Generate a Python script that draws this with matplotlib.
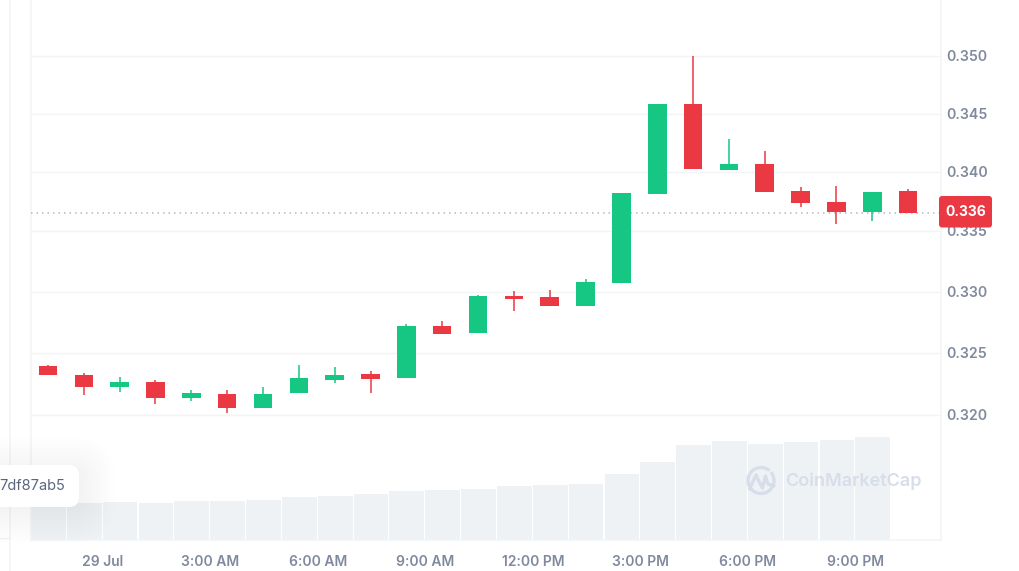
import numpy as np
import matplotlib
matplotlib.use("Agg")
import matplotlib.pyplot as plt
from matplotlib.patches import FancyBboxPatch
from matplotlib.ticker import NullFormatter, NullLocator, FixedLocator, FixedFormatter
from matplotlib.transforms import ScaledTranslation

plt.rcParams['font.family'] = ['Inter', 'DejaVu Sans']

# ---- data ----
opens  = [.32394,.32322,.32225,.32265,.32136,.32172,.32056,.32176,.32281,.32326,.32297,.32719,.32660,.32965,.32957,.32883,.33068,.33811,.34579,.34019,.34066,.33840,.33747,.33663,.33840]
closes = [.32317,.32225,.32265,.32132,.32176,.32056,.32172,.32297,.32322,.32292,.32719,.32656,.32965,.32944,.32883,.33081,.33823,.34579,.34023,.34066,.33832,.33735,.33663,.33832,.33655]
highs  = [.32402,.32334,.32305,.32281,.32200,.32200,.32225,.32402,.32386,.32354,.32732,.32760,.32977,.33006,.33014,.33102,.33823,.34579,.35000,.34279,.34180,.33875,.33883,.33832,.33853]
lows   = [.32317,.32160,.32184,.32088,.32112,.32016,.32056,.32176,.32257,.32176,.32297,.32656,.32660,.32842,.32883,.32883,.33068,.33811,.34023,.34019,.33832,.33705,.33559,.33588,.33655]
volumes = [37.5,37.5,37.7,37.5,38.7,38.7,40,42.7,44,46.3,49,50,51.3,53.7,55,56.3,66.3,77.7,95,99,96.5,98,100,103]
last_price = 0.33655
last_label = "0.336"
y_ticks = [0.320,0.325,0.330,0.335,0.340,0.345,0.350]
y_labels = ["0.320","0.325","0.330","0.335","0.340","0.345","0.350"]
x_tick_pos = [1.53,4.53,7.53,10.53,13.53,16.53,19.53,22.53]
x_labels = ["29 Jul","3:00 AM","6:00 AM","9:00 AM","12:00 PM","3:00 PM","6:00 PM","9:00 PM"]

W, H = 1019, 571
RED, GREEN = "#ea3943", "#16c784"
TXT, LINE, VOL = "#808a9d", "#f3f4f6", "#eff2f5"

fig = plt.figure(figsize=(W/100, H/100), dpi=100, facecolor="white")
rect = [31/W, (H-540)/H, (941-31)/W, 540/H]

# volume panel
axv = fig.add_axes(rect, zorder=1)
xs = np.arange(len(opens))
xl = (-0.474, 24.92)
axv.bar(xs[:len(volumes)], volumes, width=0.94, color=VOL, edgecolor=VOL, linewidth=0.7, joinstyle='round')
axv.set_xlim(xl); axv.set_ylim(0, 540)
axv.yaxis.set_visible(False)
axv.set_xticks(x_tick_pos); axv.set_xticklabels(x_labels, fontsize=10, color=TXT, fontweight=600)
axv.tick_params(axis='x', length=0, pad=11)
axv.spines['top'].set_visible(False)
for s in ['left','right','bottom']:
    axv.spines[s].set_color(LINE); axv.spines[s].set_linewidth(1.1)

# price panel
ax = fig.add_axes(rect, zorder=2)
ax.patch.set_alpha(0)
ax.set_yscale('log')
ax.set_xlim(xl)
ax.set_ylim(0.35*np.exp(-484/4006), 0.35*np.exp(56/4006))
ax.xaxis.set_visible(False)
ax.yaxis.tick_right()
ax.yaxis.set_major_locator(FixedLocator(y_ticks))
ax.yaxis.set_major_formatter(FixedFormatter(y_labels))
ax.yaxis.set_minor_locator(NullLocator()); ax.yaxis.set_minor_formatter(NullFormatter())
ax.tick_params(axis='y', length=0, pad=4, labelsize=10.2, labelcolor=TXT)
up = ScaledTranslation(0, 0.5/100, fig.dpi_scale_trans)
for t in ax.get_yticklabels():
    t.set_fontweight(600)
    t.set_transform(t.get_transform() + up)
ax.grid(axis='y', color=LINE, linewidth=1.0, zorder=0)
ax.set_axisbelow(True)
for s in ax.spines.values():
    s.set_visible(False)
ax.axhline(last_price, color="#b4b8bf", linewidth=1.1, linestyle=(0, (1, 2.6)), zorder=1)
for i, (o, h, l, c) in enumerate(zip(opens, highs, lows, closes)):
    col = GREEN if c >= o else RED
    ax.vlines(i, l, h, color=col, linewidth=1.1, zorder=3)
    ax.bar(i, abs(c-o), bottom=min(o, c), width=0.52, color=col, linewidth=0, zorder=4)

# overlay in pixel coordinates
ov = fig.add_axes([0, 0, 1, 1], zorder=3)
ov.set_xlim(0, W); ov.set_ylim(H, 0); ov.axis('off'); ov.patch.set_alpha(0)

ov.plot([10, 10], [0, H], color="#f3f4f6", lw=1.1, zorder=0)
ov.plot([0, 10], [538, 538], color="#f1f2f5", lw=1, zorder=0)

# tooltip and shadow
for g in range(36, 0, -3):
    ov.add_patch(FancyBboxPatch((-40-g, 465-g+8), 119+2*g, 42+2*g-8,
                 boxstyle=f"round,pad=0,rounding_size={8+g}", fc="#58667e", ec="none", alpha=0.0035, zorder=1))
ov.add_patch(FancyBboxPatch((-40, 465), 119, 42, boxstyle="round,pad=0,rounding_size=10",
             fc="white", ec="none", zorder=2))
ov.text(65, 486.5, "7df87ab5", fontsize=10.5, color="#58667e", ha='right', va='center', zorder=3)

# watermark
WM = "#d6dce9"
t = np.radians(np.linspace(55, 395, 100))
ov.plot(761+13*np.cos(t), 480.5-13*np.sin(t), color=WM, lw=2.4, solid_capstyle='round', alpha=.95, zorder=1)
wx = [749.5, 756, 759.5, 762.5, 765.5, 768, 774]
wy = [489, 475, 482.5, 488, 476, 484, 486]
ov.plot(wx, wy, color=WM, lw=2.4, solid_joinstyle='round', solid_capstyle='round', alpha=.95, zorder=1)
ov.text(785, 481, "CoinMarketCap", fontsize=13, fontweight=600, color=WM, ha='left', va='center', alpha=.95, zorder=1)

# last price label
ov.add_patch(FancyBboxPatch((939, 196), 53, 31.5, boxstyle="round,pad=0,rounding_size=3",
             fc=RED, ec="none", zorder=4))
ov.text(965.5, 212, last_label, fontsize=10, fontweight=700, color="white", ha='center', va='center', zorder=5)

fig.savefig("out.png", dpi=100, facecolor="white")
